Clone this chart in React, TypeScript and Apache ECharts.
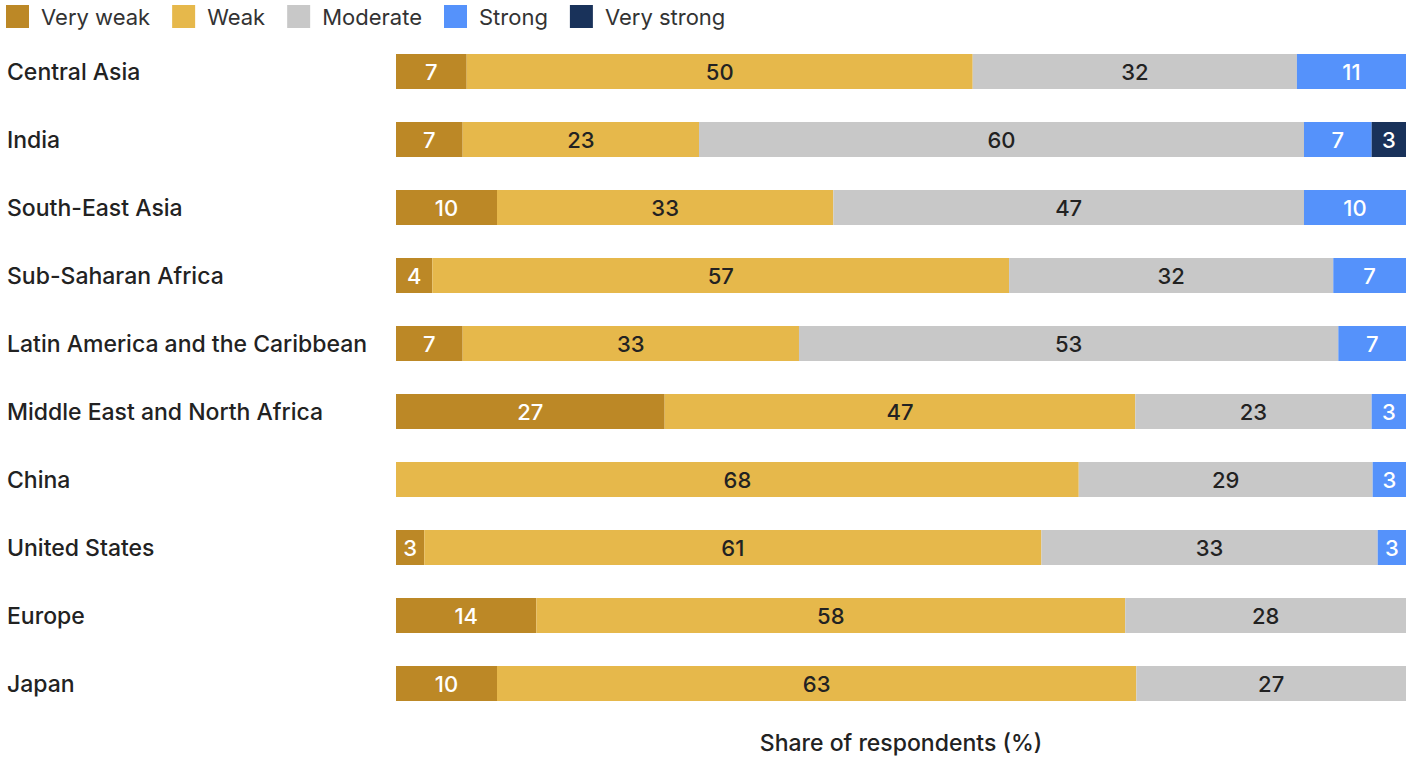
import React, { useEffect, useRef } from "react";
import * as echarts from "echarts";

const categories = [
  "Central Asia",
  "India",
  "South-East Asia",
  "Sub-Saharan Africa",
  "Latin America and the Caribbean",
  "Middle East and North Africa",
  "China",
  "United States",
  "Europe",
  "Japan",
];

const seriesNames = ["Very weak", "Weak", "Moderate", "Strong", "Very strong"];

const veryWeak = [7.0, 6.6, 10.0, 3.6, 6.6, 26.6, 0, 2.8, 13.9, 10.0];
const weak = [50.1, 23.4, 33.3, 57.1, 33.3, 46.6, 67.6, 61.1, 58.3, 63.3];
const moderate = [32.1, 59.9, 46.6, 32.1, 53.4, 23.4, 29.1, 33.3, 27.8, 26.7];
const strong = [10.8, 6.7, 10.1, 7.2, 6.7, 3.4, 3.3, 2.9, 0, 0];
const veryStrong = [0, 3.4, 0, 0, 0, 0, 0, 0, 0, 0];

const colors = ["#BC8826", "#E6B84B", "#C8C8C8", "#5592FB", "#19325A"];
const labelColors = ["#ffffff", "#222222", "#222222", "#ffffff", "#ffffff"];

const FONT = "Inter, 'Liberation Sans', Arial, sans-serif";

export default function App() {
  const ref = useRef<HTMLDivElement>(null);
  useEffect(() => {
    if (!ref.current) return;
    const chart = echarts.init(ref.current, undefined, { renderer: "svg" });
    const data = [veryWeak, weak, moderate, strong, veryStrong];
    chart.setOption({
      animation: false,
      textStyle: { fontFamily: FONT },
      legend: {
        left: 6,
        top: 5,
        padding: 0,
        itemWidth: 23,
        itemHeight: 23,
        itemGap: 22,
        icon: "rect",
        data: seriesNames,
        selectedMode: false,
        textStyle: {
          fontSize: 22,
          color: "#333333",
          fontFamily: FONT,
          padding: [0, 0, 0, 7],
        },
      },
      grid: {
        left: 396,
        right: 7,
        top: 37.5,
        bottom: 39.5,
        containLabel: false,
        outerBoundsMode: "none",
      },
      xAxis: {
        type: "value",
        min: 0,
        max: 100,
        axisLabel: { show: false },
        axisTick: { show: false },
        axisLine: { show: false },
        splitLine: { show: false },
        name: "Share of respondents (%)",
        nameLocation: "middle",
        nameGap: 14,
        nameTextStyle: {
          fontSize: 23,
          fontWeight: 500,
          color: "#222222",
          fontFamily: FONT,
        },
      },
      yAxis: {
        type: "category",
        data: categories,
        inverse: true,
        axisLine: { show: false },
        axisTick: { show: false },
        axisLabel: {
          align: "left",
          margin: 389,
          fontSize: 23,
          fontWeight: 500,
          color: "#222222",
          fontFamily: FONT,
        },
      },
      series: seriesNames.map((name, i) => ({
        name,
        type: "bar",
        stack: "total",
        barWidth: 35,
        itemStyle: { color: colors[i] },
        data: data[i].map((v) => (v === 0 ? null : v)),
        label: {
          show: true,
          position: "inside",
          fontSize: 22,
          fontWeight: 500,
          color: labelColors[i],
          fontFamily: FONT,
          formatter: (p: any) => String(Math.round(p.value)),
        },
      })),
    });
    return () => chart.dispose();
  }, []);
  return <div ref={ref} style={{ width: 1413, height: 757, position: "absolute", left: 0, top: 0 }} />;
}
